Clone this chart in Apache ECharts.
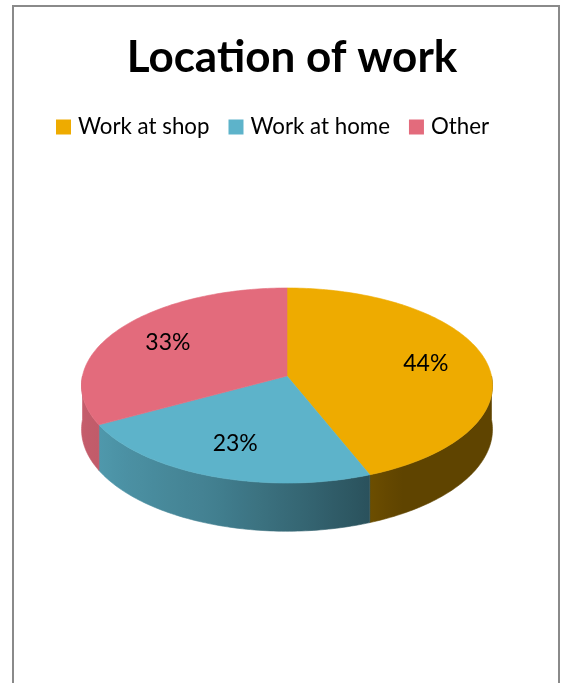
<!DOCTYPE html>
<html><head><meta charset="utf-8">
<script src="https://cdn.jsdelivr.net/npm/echarts@6/dist/echarts.min.js"></script>
<style>html,body{margin:0;padding:0;background:#fff}#chart{width:561px;height:683px}</style>
</head><body><div id="chart"></div>
<script>
// Categories and their shares (percent)
const categories = ['Work at shop', 'Work at home', 'Other'];
const shares = [44, 23, 33];
const sliceColors = ['#EEAB00', '#5DB3CA', '#E36B7C'];

// Tilted-disc projection with mild perspective (front edge closer to viewer)
const CX = 287, CY = 376, RX = 204.5, RY = 96.6, PERSP = 0.0975, DEPTH = 43.5;
function project(phiDeg, r, dropped) {
  const p = phiDeg * Math.PI / 180;
  const u = r * Math.sin(p), v = -r * Math.cos(p);
  const w = 1 - PERSP * v;
  return [CX + RX * u / w, CY + RY * v / w + (dropped ? DEPTH / w : 0)];
}

// Side-wall brightness as a function of the rim angle (light from the left)
const shadeStops = [[90, 0.40], [150, 0.40], [200, 0.72], [240, 0.85], [270, 0.88]];
function shadeAt(phi) {
  for (let i = 1; i < shadeStops.length; i++) {
    if (phi <= shadeStops[i][0]) {
      const [a0, f0] = shadeStops[i - 1], [a1, f1] = shadeStops[i];
      return f0 + (f1 - f0) * (phi - a0) / (a1 - a0);
    }
  }
  return shadeStops[shadeStops.length - 1][1];
}
function darken(hex, f) {
  const n = parseInt(hex.slice(1), 16);
  const r = Math.round(((n >> 16) & 255) * f), g = Math.round(((n >> 8) & 255) * f), b = Math.round((n & 255) * f);
  return 'rgb(' + r + ',' + g + ',' + b + ')';
}
function arcPoints(a0, a1, r, dropped) {
  const n = Math.max(2, Math.ceil(Math.abs(a1 - a0)));
  const pts = [];
  for (let k = 0; k <= n; k++) pts.push(project(a0 + (a1 - a0) * k / n, r, dropped));
  return pts;
}

const total = shares.reduce((s, v) => s + v, 0);

function makeRenderer(idx) {
  return function (params, api) {
    const value = api.value(0);
    let before = 0;
    for (let i = 0; i < idx; i++) before += shares[i];
    const a0 = before / total * 360;
    const a1 = (before + value) / total * 360;
    const color = sliceColors[idx];
    const children = [];

    // visible outer wall: front half of the rim
    const w0 = Math.max(a0, 90), w1 = Math.min(a1, 270);
    if (w1 > w0) {
      const topEdge = arcPoints(w0, w1, 1, false);
      const botEdge = arcPoints(w0, w1, 1, true).reverse();
      const xs = project(w0, 1, false)[0], xe = project(w1, 1, false)[0];
      const stops = [];
      const steps = Math.max(2, Math.ceil((w1 - w0) / 5));
      for (let k = 0; k <= steps; k++) {
        const a = w0 + (w1 - w0) * k / steps;
        const x = project(a, 1, false)[0];
        stops.push({ offset: Math.min(1, Math.max(0, (x - xs) / (xe - xs))), color: darken(color, shadeAt(a)) });
      }
      const fill = { type: 'linear', x: xs, y: 0, x2: xe, y2: 0, global: true, colorStops: stops };
      children.push({
        type: 'polygon', z2: 1,
        shape: { points: topEdge.concat(botEdge) },
        style: { fill: fill, stroke: fill, lineWidth: 0.6 }
      });
    }

    // top face of the slice
    const topPts = [[CX, CY]].concat(arcPoints(a0, a1, 1, false));
    children.push({
      type: 'polygon', z2: 10,
      shape: { points: topPts },
      style: { fill: color, stroke: color, lineWidth: 0.6 }
    });

    // percentage label inside the slice
    const mid = (a0 + a1) / 2;
    const lp = project(mid, 0.7, false);
    children.push({
      type: 'text', z2: 20,
      style: {
        text: Math.round(value / total * 100) + '%',
        x: lp[0], y: lp[1], align: 'center', verticalAlign: 'middle',
        fill: '#000', font: '23px Lato'
      }
    });
    return { type: 'group', children: children };
  };
}

const chart = echarts.init(document.getElementById('chart'), null, { renderer: 'canvas' });
chart.setOption({
  animation: false,
  backgroundColor: '#ffffff',
  color: sliceColors,
  graphic: [{
    type: 'rect', z: -10, silent: true,
    shape: { x: 13, y: 6, width: 546, height: 720 },
    style: { fill: '#ffffff', stroke: '#8a8a8a', lineWidth: 2 }
  }],
  title: {
    text: 'Location of work',
    left: 287, top: 31, textAlign: 'center',
    textStyle: { fontFamily: 'Lato', fontWeight: 'bold', fontSize: 44, color: '#000' }
  },
  legend: {
    left: 56, top: 116, icon: 'rect', itemWidth: 15, itemHeight: 15, itemGap: 19,
    padding: 0,
    data: categories,
    textStyle: { fontFamily: 'Lato', fontSize: 22.3, color: '#000', padding: [0, 0, 0, 2] }
  },
  series: categories.map((name, i) => ({
    type: 'custom',
    name: name,
    coordinateSystem: 'none',
    itemStyle: { color: sliceColors[i] },
    data: [[shares[i]]],
    renderItem: makeRenderer(i)
  }))
});
</script>
</body></html>
